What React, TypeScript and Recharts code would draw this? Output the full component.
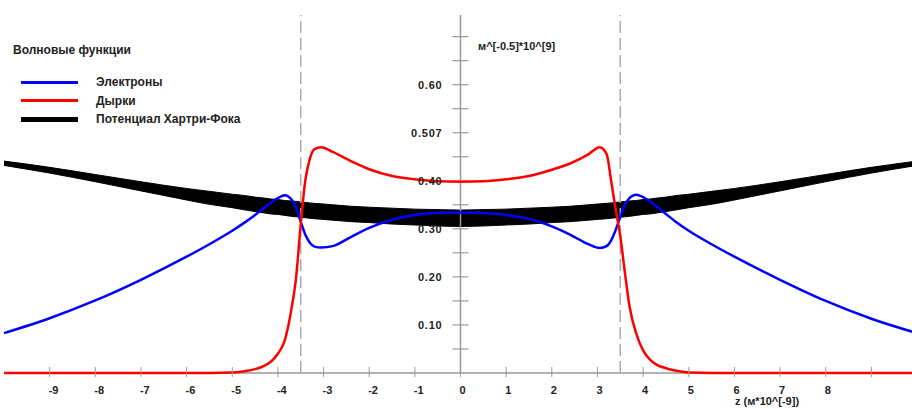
import React from "react";
import { ComposedChart, Line, Area, XAxis, YAxis, ReferenceLine } from "recharts";

// z, nm
const zValues = [
  -10, -9, -8, -7, -6, -5.5, -5, -4.7, -4.5, -4.3, -4.15, -4, -3.85, -3.7, -3.6, -3.5, -3.4, -3.3, -3.2, -3.05,
  -2.8, -2.4, -2, -1.5, -1, -0.5, 0, 0.5, 1, 1.5, 2, 2.4, 2.8, 3.05, 3.2, 3.3, 3.4, 3.5, 3.6, 3.7, 3.85, 4,
  4.15, 4.3, 4.5, 4.7, 5, 5.5, 6, 7, 8, 9, 10,
];

const electrons = [
  0.083, 0.114, 0.151, 0.194, 0.242, 0.268, 0.296, 0.315, 0.329, 0.344, 0.355, 0.364, 0.37, 0.361, 0.343, 0.315,
  0.288, 0.271, 0.263, 0.261, 0.264, 0.283, 0.302, 0.319, 0.329, 0.333, 0.334, 0.333, 0.329, 0.321, 0.305, 0.288,
  0.268, 0.26, 0.264, 0.276, 0.298, 0.325, 0.349, 0.364, 0.371, 0.366, 0.357, 0.346, 0.331, 0.316, 0.296, 0.268,
  0.242, 0.194, 0.15, 0.113, 0.083,
];

const holes = [
  0, 0, 0, 0, 0, 0, 0.001, 0.004, 0.008, 0.015, 0.024, 0.04, 0.068, 0.135, 0.2, 0.31, 0.4, 0.446, 0.466, 0.47,
  0.46, 0.441, 0.424, 0.41, 0.403, 0.399, 0.398, 0.399, 0.403, 0.41, 0.423, 0.436, 0.455, 0.47, 0.456, 0.4, 0.34,
  0.285, 0.21, 0.14, 0.082, 0.047, 0.028, 0.017, 0.01, 0.005, 0.001, 0, 0, 0, 0, 0, 0,
];

// Hartree-Fock potential drawn as a band (upper / lower edge)
const potentialHigh = [
  0.441, 0.428, 0.413, 0.398, 0.384, 0.378, 0.372, 0.369, 0.366, 0.364, 0.362, 0.361, 0.359, 0.358, 0.357, 0.356,
  0.355, 0.354, 0.353, 0.352, 0.35, 0.347, 0.345, 0.343, 0.341, 0.34, 0.339, 0.34, 0.341, 0.343, 0.345, 0.347,
  0.35, 0.352, 0.353, 0.354, 0.355, 0.356, 0.357, 0.358, 0.359, 0.361, 0.362, 0.364, 0.366, 0.369, 0.372, 0.378,
  0.384, 0.398, 0.413, 0.428, 0.441,
];
const potentialLow = [
  0.432, 0.416, 0.398, 0.379, 0.36, 0.351, 0.344, 0.339, 0.336, 0.333, 0.331, 0.33, 0.328, 0.326, 0.325, 0.324,
  0.323, 0.322, 0.321, 0.32, 0.318, 0.315, 0.313, 0.31, 0.308, 0.306, 0.305, 0.306, 0.308, 0.31, 0.313, 0.315,
  0.318, 0.32, 0.321, 0.322, 0.323, 0.324, 0.325, 0.326, 0.328, 0.33, 0.331, 0.333, 0.336, 0.339, 0.344, 0.351,
  0.36, 0.379, 0.398, 0.416, 0.432,
];

const xTicks = [-9, -8, -7, -6, -5, -4, -3, -2, -1, 0, 1, 2, 3, 4, 5, 6, 7, 8, 9];
const xTickLabels = ["-9", "-8", "-7", "-6", "-5", "-4", "-3", "-2", "-1", "0", "1", "2", "3", "4", "5", "6", "7", "8", ""];

const yTicks = [0.05, 0.1, 0.15, 0.2, 0.25, 0.3, 0.35, 0.4, 0.45, 0.5, 0.55, 0.6, 0.65, 0.7];
const yTickLabels = ["", "0.10", "", "0.20", "", "0.30", "", "0.40", "", "0.507", "", "0.60", "", ""];

const wellEdges = [-3.5, 3.5];

const legendItems = [
  { name: "Электроны", color: "#0000ff", width: 3 },
  { name: "Дырки", color: "#ff0000", width: 3 },
  { name: "Потенциал Хартри-Фока", color: "#000000", width: 5 },
];

const data = zValues.map((z, i) => ({
  z,
  electrons: electrons[i],
  holes: holes[i],
  band: [potentialLow[i], potentialHigh[i]],
}));

const FONT = "'Liberation Sans', Arial, sans-serif";
const AXIS = "#999999";
const TICK_HALF = 0.175; // half tick length in z units (~8px)

const XTick = (props: any) => {
  const { x, y, payload } = props;
  const label = xTickLabels[xTicks.indexOf(payload.value)];
  return (
    <g>
      <line x1={x} x2={x} y1={y - 14} y2={y - 4} stroke={AXIS} />
      <text x={x - 1} y={y + 13} textAnchor="start" fontSize={11} fontWeight="bold" fontFamily={FONT} fill="#222">
        {label}
      </text>
    </g>
  );
};

export default function App() {
  return (
    <div
      style={{
        position: "absolute",
        left: 0,
        top: 0,
        width: 912,
        height: 409,
        overflow: "hidden",
        background: "#fff",
        fontFamily: FONT,
      }}
    >
      <ComposedChart width={917} height={409} data={data} margin={{ top: 15, right: 0, bottom: 6, left: 4 }}>
        <XAxis
          type="number"
          dataKey="z"
          domain={[-10, 10]}
          ticks={xTicks}
          tick={<XTick />}
          tickLine={false}
          axisLine={false}
          height={30}
        />
        <YAxis type="number" domain={[0, 0.745]} hide />
        <ReferenceLine y={0} stroke={AXIS} strokeWidth={1.5} />
        <ReferenceLine x={0} stroke={AXIS} strokeWidth={1.5} />
        {wellEdges.map((e) => (
          <ReferenceLine key={e} x={e} stroke="#aaaaaa" strokeWidth={1.5} strokeDasharray="12 5" />
        ))}
        {yTicks.map((v, i) => (
          <ReferenceLine
            key={v}
            segment={[
              { x: -TICK_HALF, y: v },
              { x: TICK_HALF, y: v },
            ]}
            stroke={AXIS}
            strokeWidth={1.2}
            label={
              yTickLabels[i]
                ? {
                    value: yTickLabels[i],
                    position: "left",
                    offset: 10,
                    fill: "#222",
                    fontSize: 11,
                    fontWeight: "bold",
                    fontFamily: FONT,
                    letterSpacing: 0.8,
                  }
                : undefined
            }
          />
        ))}
        <Area
          type="monotone"
          dataKey="band"
          stroke="#000"
          strokeWidth={1}
          fill="#000"
          fillOpacity={1}
          isAnimationActive={false}
          dot={false}
          activeDot={false}
        />
        <Line
          type="monotone"
          dataKey="electrons"
          stroke="#0000ff"
          strokeWidth={2.5}
          dot={false}
          activeDot={false}
          isAnimationActive={false}
        />
        <Line
          type="monotone"
          dataKey="holes"
          stroke="#ff0000"
          strokeWidth={2.5}
          dot={false}
          activeDot={false}
          isAnimationActive={false}
        />
      </ComposedChart>

      {/* legend */}
      <div style={{ position: "absolute", left: 13, top: 43, fontSize: 12, fontWeight: "bold", color: "#222" }}>
        Волновые функции
      </div>
      {legendItems.map((it, i) => (
        <div
          key={it.name}
          style={{ position: "absolute", left: 21, top: 75 + i * 18.5, height: 14, display: "flex", alignItems: "center" }}
        >
          <div style={{ width: 57, height: it.width, background: it.color }} />
          <span style={{ marginLeft: 18, fontSize: 12, fontWeight: "bold", color: "#222", whiteSpace: "nowrap" }}>
            {it.name}
          </span>
        </div>
      ))}

      {/* axis titles */}
      <div style={{ position: "absolute", left: 478, top: 40, fontSize: 11, fontWeight: "bold", color: "#222" }}>
        м^[-0.5]*10^[9]
      </div>
      <div style={{ position: "absolute", left: 735, top: 395, fontSize: 11, fontWeight: "bold", color: "#222" }}>
        z (м*10^[-9])
      </div>
    </div>
  );
}
